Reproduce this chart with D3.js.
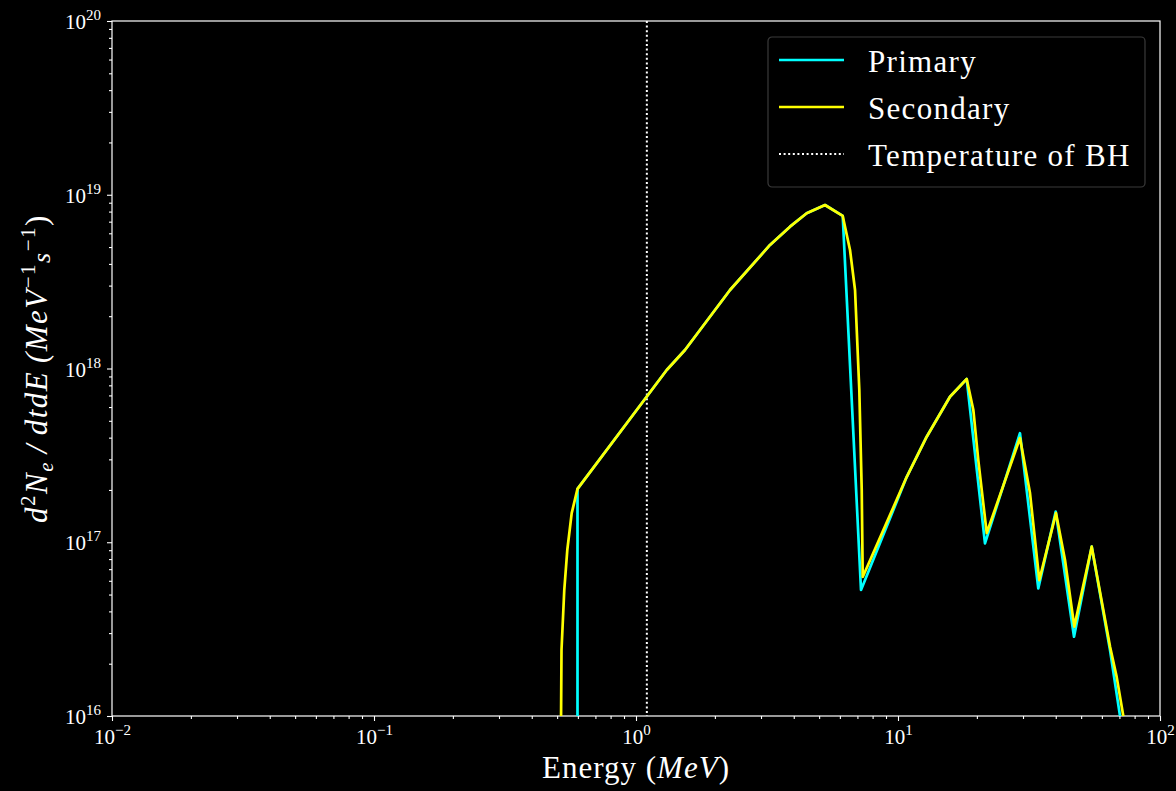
<!DOCTYPE html>
<html>
<head>
<meta charset="utf-8">
<script src="https://cdn.jsdelivr.net/npm/d3@7"></script>
<style>
  html, body { margin: 0; padding: 0; background: #000; }
  svg { display: block; }
  text { font-family: "Liberation Serif", "DejaVu Serif", serif; fill: #fff; }
</style>
</head>
<body>
<div id="chart"></div>
<script>
// energies in MeV, flux in MeV^-1 s^-1
const primaryEnergy = [0.598, 0.598, 1.310, 1.538, 2.285, 3.247, 3.871, 4.482, 5.265, 6.152, 7.225,
    10.80, 12.87, 15.79, 18.29, 21.48, 29.21, 34.31, 39.99, 46.97, 54.87, 64.45, 70.37, 72.25];
const primaryFlux = [1e15, 2.03e17, 9.80e17, 1.278e18, 2.83e18, 5.14e18, 6.55e18, 7.82e18, 8.73e18, 7.55e18, 5.31e16,
    2.38e17, 4.05e17, 6.88e17, 8.70e17, 9.86e16, 4.24e17, 5.43e16, 1.50e17, 2.86e16, 9.43e16, 2.40e16, 1.0e16, 7.3e15];

const secondaryEnergy = [0.516, 0.5196, 0.5324, 0.5467, 0.5683, 0.598, 1.310, 1.538, 2.285, 3.247, 3.871, 4.482,
    5.265, 6.152, 6.560, 6.855, 7.118, 7.27, 7.334, 10.80, 12.87, 15.79, 18.29, 19.39, 20.25, 21.81, 29.21, 31.90,
    34.62, 40.10, 43.39, 47.09, 54.87, 64.45, 68.33, 72.43, 74.8];
const secondaryFlux = [5e15, 2.40e16, 5.31e16, 9.02e16, 1.47e17, 2.03e17, 9.80e17, 1.278e18, 2.83e18, 5.14e18, 6.55e18, 7.82e18,
    8.73e18, 7.55e18, 4.81e18, 2.83e18, 7.52e17, 2.0e17, 6.31e16, 2.38e17, 4.05e17, 6.88e17, 8.70e17, 5.77e17, 2.97e17, 1.13e17, 3.98e17, 1.92e17,
    6.06e16, 1.47e17, 7.91e16, 3.27e16, 9.43e16, 2.51e16, 1.68e16, 1.0e16, 7.3e15];

const bhTemperature = 1.10;

const xExponents = [-2, -1, 0, 1, 2];
const yExponents = [16, 17, 18, 19, 20];
const legendLabels = ["Primary", "Secondary", "Temperature of BH"];

const width = 1176, height = 791;
const margin = { top: 21, right: 16, bottom: 75, left: 112 };
const innerW = width - margin.left - margin.right;
const innerH = height - margin.top - margin.bottom;

const x = d3.scaleLog().domain([1e-2, 1e2]).range([0, innerW]);
const y = d3.scaleLog().domain([1e16, 1e20]).range([innerH, 0]);

const svg = d3.select("#chart").append("svg")
    .attr("width", width)
    .attr("height", height)
    .style("background", "#000");

const g = svg.append("g").attr("transform", `translate(${margin.left},${margin.top})`);

// minor ticks 2..9 per decade
const minorTicks = (exps) => {
    const out = [];
    for (let i = 0; i < exps.length - 1; i++) {
        for (let k = 2; k <= 9; k++) out.push(k * Math.pow(10, exps[i]));
    }
    return out;
};
const minus = (n) => String(n).replace("-", "\u2212");

// x axis
g.append("g")
    .attr("transform", `translate(0,${innerH})`)
    .call(d3.axisBottom(x).tickValues(minorTicks(xExponents)).tickSize(3).tickFormat(""))
    .call(a => a.select(".domain").remove());

const xAxis = g.append("g")
    .attr("transform", `translate(0,${innerH})`)
    .call(d3.axisBottom(x).tickValues(xExponents.map(e => Math.pow(10, e))).tickSize(5))
    .call(a => a.select(".domain").remove());

xAxis.selectAll(".tick text")
    .text(null)
    .attr("y", 28)
    .attr("dy", null)
    .style("font-size", "21px")
    .attr("fill", "#fff")
    .each(function(d) {
        const t = d3.select(this);
        t.append("tspan").text("10");
        t.append("tspan").attr("dy", -9).style("font-size", "15px").text(minus(Math.round(Math.log10(d))));
    });

// y axis
g.append("g")
    .call(d3.axisLeft(y).tickValues(minorTicks(yExponents)).tickSize(3).tickFormat(""))
    .call(a => a.select(".domain").remove());

const yAxis = g.append("g")
    .call(d3.axisLeft(y).tickValues(yExponents.map(e => Math.pow(10, e))).tickSize(5))
    .call(a => a.select(".domain").remove());

yAxis.selectAll(".tick text")
    .text(null)
    .attr("x", -11)
    .attr("dy", "0.36em")
    .style("font-size", "21px")
    .attr("fill", "#fff")
    .each(function(d) {
        const t = d3.select(this);
        t.append("tspan").text("10");
        t.append("tspan").attr("dy", -9).style("font-size", "15px").text(Math.round(Math.log10(d)));
    });

svg.selectAll(".tick line").attr("stroke", "#fff").attr("stroke-width", 1.1);

// frame
g.append("rect")
    .attr("width", innerW)
    .attr("height", innerH)
    .attr("fill", "none")
    .attr("stroke", "#fff")
    .attr("stroke-width", 1.2);

// clip data lines to the plot area
svg.append("defs").append("clipPath").attr("id", "clip")
    .append("rect").attr("width", innerW).attr("height", innerH);

const plot = g.append("g").attr("clip-path", "url(#clip)");

plot.append("line")
    .attr("x1", x(bhTemperature)).attr("x2", x(bhTemperature))
    .attr("y1", 0).attr("y2", innerH)
    .attr("stroke", "#fff")
    .attr("stroke-width", 2)
    .attr("stroke-dasharray", "2,2.6");

const line = d3.line()
    .x(d => x(d[0]))
    .y(d => y(d[1]));

plot.append("path")
    .datum(d3.zip(primaryEnergy, primaryFlux))
    .attr("d", line)
    .attr("fill", "none")
    .attr("stroke", "#00ffff")
    .attr("stroke-width", 2.7)
    .attr("stroke-linejoin", "round");

plot.append("path")
    .datum(d3.zip(secondaryEnergy, secondaryFlux))
    .attr("d", line)
    .attr("fill", "none")
    .attr("stroke", "#ffff00")
    .attr("stroke-width", 2.7)
    .attr("stroke-linejoin", "round");

// axis labels
const xLabel = svg.append("text")
    .attr("x", margin.left + innerW / 2)
    .attr("y", 778)
    .attr("text-anchor", "middle")
    .style("font-size", "31px")
    .style("letter-spacing", "1px");
xLabel.append("tspan").text("Energy (");
xLabel.append("tspan").style("font-style", "italic").text("MeV");
xLabel.append("tspan").text(")");

const yLabel = svg.append("text")
    .attr("transform", `translate(47,${margin.top + innerH / 2}) rotate(-90)`)
    .attr("text-anchor", "middle")
    .style("font-size", "31px")
    .style("letter-spacing", "1.5px");
yLabel.append("tspan").style("font-style", "italic").text("d");
yLabel.append("tspan").attr("dy", -12).style("font-size", "21px").text("2");
yLabel.append("tspan").attr("dy", 12).style("font-style", "italic").text("N");
yLabel.append("tspan").attr("dy", 6).style("font-size", "21px").style("font-style", "italic").text("e");
yLabel.append("tspan").attr("dy", -6).style("font-style", "italic").text("\u2009/\u2009dtdE\u2009(MeV");
yLabel.append("tspan").attr("dy", -12).style("font-size", "21px").text("\u22121");
yLabel.append("tspan").attr("dy", 15).style("font-size", "26px").style("font-style", "italic").text("s");
yLabel.append("tspan").attr("dy", -15).style("font-size", "21px").text("\u22121");
yLabel.append("tspan").attr("dy", 12).text(")");

// legend
const legend = svg.append("g").attr("transform", "translate(768,37)");
legend.append("rect")
    .attr("width", 377).attr("height", 150)
    .attr("rx", 4)
    .attr("fill", "#000")
    .attr("stroke", "#3a3a3a")
    .attr("stroke-width", 1.2);

const legendStyles = [
    { color: "#00ffff", dash: null, w: 2.7 },
    { color: "#ffff00", dash: null, w: 2.7 },
    { color: "#fff", dash: "2,2.6", w: 2 }
];

legendLabels.forEach((label, i) => {
    const rowY = 23 + i * 47;
    legend.append("line")
        .attr("x1", 11).attr("x2", 76)
        .attr("y1", rowY).attr("y2", rowY)
        .attr("stroke", legendStyles[i].color)
        .attr("stroke-width", legendStyles[i].w)
        .attr("stroke-dasharray", legendStyles[i].dash);
    legend.append("text")
        .attr("x", 100)
        .attr("y", rowY + 12)
        .style("font-size", "31px")
        .style("letter-spacing", "1.3px")
        .text(label);
});
</script>
</body>
</html>
